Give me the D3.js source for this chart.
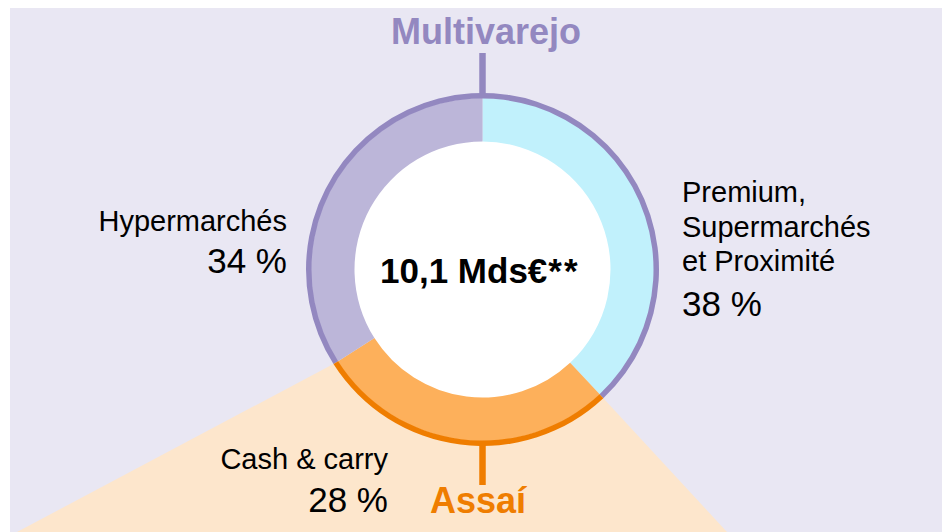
<!DOCTYPE html>
<html>
<head>
<meta charset="utf-8">
<script src="https://cdn.jsdelivr.net/npm/d3@7"></script>
<style>
  html, body { margin: 0; padding: 0; background: #ffffff; }
  svg { display: block; }
  text { font-family: "Liberation Sans", Arial, sans-serif; }
</style>
</head>
<body>
<svg id="chart" width="942" height="532"></svg>
<script>
// ---- data ----
const categories = ["Premium, Supermarchés et Proximité", "Cash & carry", "Hypermarchés"];
const shares = [38, 28, 34];
const groups = ["Multivarejo", "Assaí", "Multivarejo"];
const groupNames = ["Multivarejo", "Assaí"];
const totalLabel = "10,1 Mds€";
const totalNote = "**";

// ---- styles ----
const sliceColors = ["#c1f1fc", "#fdb05b", "#bcb6d9"];
const groupColors = { "Multivarejo": "#9388c0", "Assaí": "#ef7d00" };
const W = 942, H = 532;
const cx = 482.5, cy = 269.5;
const rInner = 128, rOuter = 171.5, rStrokeOut = 176.5;

const svg = d3.select("#chart");

svg.append("rect").attr("x", 10).attr("y", 8).attr("width", W - 10).attr("height", H - 8)
  .attr("fill", "#e9e7f3");

const pie = d3.pie().sort(null).value(d => d.v).startAngle(0).endAngle(2 * Math.PI);
const data = categories.map((c, i) => ({ c, v: shares[i], g: groups[i] }));
const arcs = pie(data);

const pt = (a, r) => [cx + r * Math.sin(a), cy - r * Math.cos(a)];

// beige zoom wedge from Assaí slice
const assai = arcs[1];
const pA = pt(assai.endAngle, rStrokeOut - 1);
const pB = pt(assai.startAngle, rStrokeOut - 1);
svg.append("polygon")
  .attr("points", [pA, [17, H], [727, H], pB].map(p => p.join(",")).join(" "))
  .attr("fill", "#fde6cc");

const g = svg.append("g").attr("transform", `translate(${cx},${cy})`);

g.append("circle").attr("r", rInner + 1).attr("fill", "#ffffff");

const arc = d3.arc().innerRadius(rInner).outerRadius(rOuter);
g.selectAll("path.slice").data(arcs).join("path")
  .attr("class", "slice")
  .attr("d", arc)
  .attr("fill", (d, i) => sliceColors[i]);

// group outline arcs
const ring = d3.arc().innerRadius(rOuter - 0.5).outerRadius(rStrokeOut);
const multiStart = arcs[2].startAngle;
const multiEnd = arcs[0].endAngle + 2 * Math.PI;
g.append("path")
  .attr("d", ring({ startAngle: multiStart, endAngle: multiEnd }))
  .attr("fill", groupColors["Multivarejo"]);
g.append("path")
  .attr("d", ring({ startAngle: assai.startAngle, endAngle: assai.endAngle }))
  .attr("fill", groupColors["Assaí"]);

// connector lines
svg.append("line").attr("x1", cx).attr("x2", cx).attr("y1", 53).attr("y2", cy - rStrokeOut + 2)
  .attr("stroke", groupColors["Multivarejo"]).attr("stroke-width", 6.5);
svg.append("line").attr("x1", cx).attr("x2", cx).attr("y1", cy + rStrokeOut - 2).attr("y2", 485)
  .attr("stroke", groupColors["Assaí"]).attr("stroke-width", 6.5);

// group titles
svg.append("text").attr("x", 486).attr("y", 44).attr("text-anchor", "middle")
  .attr("font-size", 36).attr("font-weight", "bold").attr("fill", groupColors["Multivarejo"])
  .text(groupNames[0]);
svg.append("text").attr("x", 478).attr("y", 513).attr("text-anchor", "middle")
  .attr("font-size", 36).attr("font-weight", "bold").attr("fill", groupColors["Assaí"])
  .text(groupNames[1]);

// center total
const ct = svg.append("text").attr("x", 380).attr("y", 283)
  .attr("font-size", 35).attr("font-weight", "bold").attr("fill", "#000");
ct.append("tspan").text(totalLabel);
ct.append("tspan").attr("dx", 1).attr("letter-spacing", 2).text(totalNote);

// slice labels
function label(lines, x, anchor) {
  const t = svg.append("text").attr("text-anchor", anchor).attr("fill", "#000");
  lines.forEach(l => {
    t.append("tspan").attr("x", x).attr("y", l.y).attr("font-size", l.s).text(l.t);
  });
}
const pct = v => `${v} %`;
label([
  { t: "Premium,", y: 202, s: 29 },
  { t: "Supermarchés", y: 237, s: 29 },
  { t: "et Proximité", y: 271, s: 29 },
  { t: pct(shares[0]), y: 316, s: 35 }
], 682, "start");
label([
  { t: categories[2], y: 231, s: 29 },
  { t: pct(shares[2]), y: 273, s: 35 }
], 287, "end");
label([
  { t: categories[1], y: 469, s: 29 },
  { t: pct(shares[1]), y: 512, s: 35 }
], 388, "end");
</script>
</body>
</html>
